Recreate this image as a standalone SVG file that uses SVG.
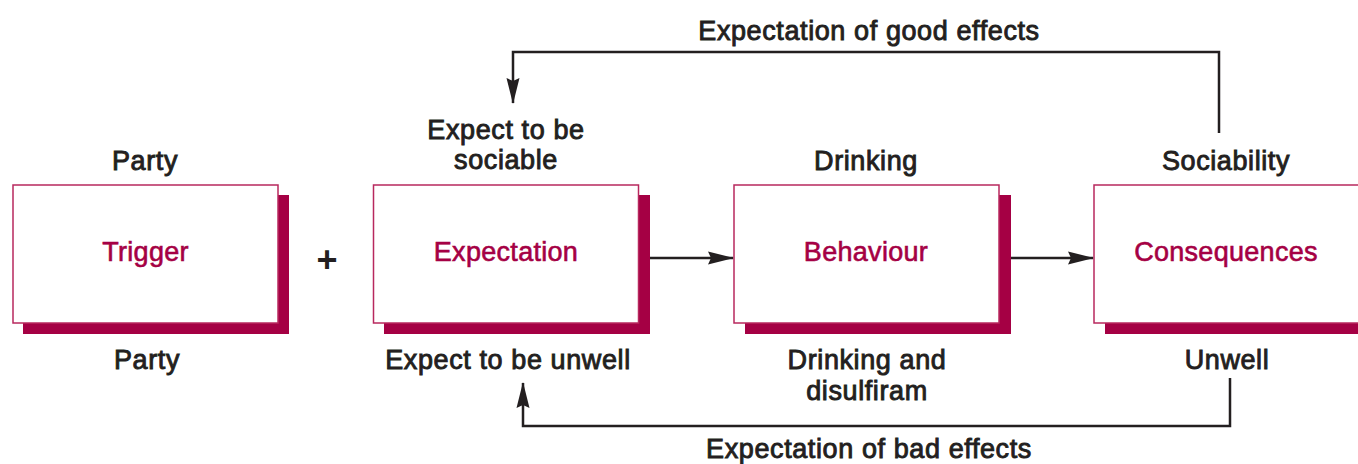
<svg xmlns="http://www.w3.org/2000/svg" width="1358" height="464" viewBox="0 0 1358 464">
<defs>
<style>
.shadow{fill:#A50044}
.box{fill:#FFFFFF;stroke:#B8285E;stroke-width:1.5}
.nlabel{font-family:"Liberation Sans",Arial,Helvetica,sans-serif;font-size:27px;fill:#A50044;stroke:#A50044;stroke-width:0.6;text-anchor:middle;letter-spacing:0.3px}
.label{font-family:"Liberation Sans",Arial,Helvetica,sans-serif;font-size:27px;fill:#231F20;stroke:#231F20;stroke-width:0.9;text-anchor:middle;letter-spacing:0.6px}
.conn{fill:none;stroke:#231F20;stroke-width:2.5}
</style>
<marker id="arrow" viewBox="0 0 26 14" refX="25" refY="7" markerWidth="26" markerHeight="14" markerUnits="userSpaceOnUse" orient="auto">
<path d="M0,0.5 L26,7 L0,13.5 L3,7 Z" fill="#231F20"/>
</marker>
</defs>
<rect width="1358" height="464" fill="#FFFFFF"/>

<g id="node-trigger">
<rect class="shadow" x="23" y="195" width="266" height="139"/>
<rect class="box" x="13" y="185" width="265" height="138"/>
<text class="nlabel" x="145.5" y="261">Trigger</text>
</g>
<g id="node-expectation">
<rect class="shadow" x="384" y="195" width="266" height="139"/>
<rect class="box" x="373.5" y="185" width="265" height="138"/>
<text class="nlabel" x="506" y="261">Expectation</text>
</g>
<g id="node-behaviour">
<rect class="shadow" x="745" y="195" width="266" height="139"/>
<rect class="box" x="734" y="185" width="265" height="138"/>
<text class="nlabel" x="866" y="261">Behaviour</text>
</g>
<g id="node-consequences">
<rect class="shadow" x="1105" y="195" width="266" height="139"/>
<rect class="box" x="1094" y="185" width="265" height="138"/>
<text class="nlabel" x="1226" y="261">Consequences</text>
</g>

<g id="plus">
<text x="327" y="272" font-family="'Liberation Sans',Arial,sans-serif" font-size="36" font-weight="bold" fill="#231F20" text-anchor="middle">+</text>
</g>

<g id="labels">
<text class="label" x="145" y="170">Party</text>
<text class="label" x="506" y="139">Expect to be</text>
<text class="label" x="506" y="169">sociable</text>
<text class="label" x="866" y="170">Drinking</text>
<text class="label" x="1226" y="170">Sociability</text>
<text class="label" x="147" y="369">Party</text>
<text class="label" x="508" y="369">Expect to be unwell</text>
<text class="label" x="867" y="369">Drinking and</text>
<text class="label" x="867" y="400">disulfiram</text>
<text class="label" x="1227" y="369">Unwell</text>
<text class="label" x="869" y="40">Expectation of good effects</text>
<text class="label" x="869" y="458">Expectation of bad effects</text>
</g>

<g id="connectors">
<line class="conn" x1="650" y1="258" x2="733" y2="258" marker-end="url(#arrow)"/>
<line class="conn" x1="1011" y1="258" x2="1093" y2="258" marker-end="url(#arrow)"/>
<polyline class="conn" points="1219,133 1219,52 513,52 513,103" marker-end="url(#arrow)"/>
<polyline class="conn" points="1230,378 1230,426 523,426 523,383" marker-end="url(#arrow)"/>
</g>
</svg>
